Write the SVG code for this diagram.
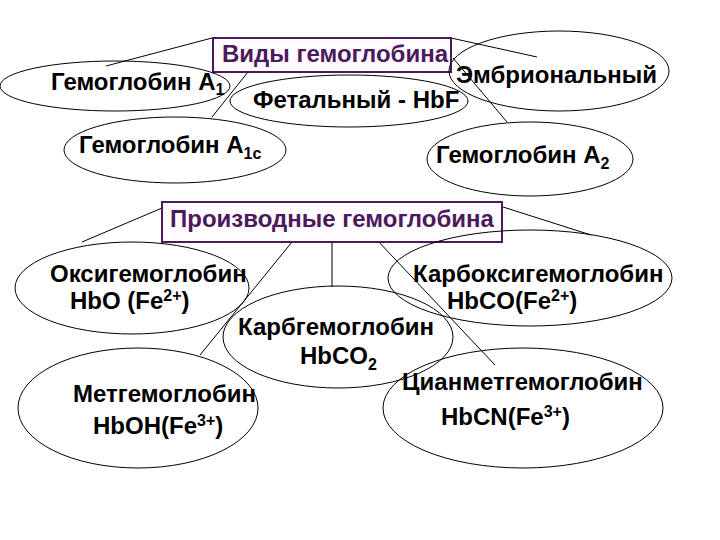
<svg xmlns="http://www.w3.org/2000/svg" width="720" height="540" viewBox="0 0 720 540">
<style>
text{font-family:"Liberation Sans",Arial,sans-serif;font-weight:bold;font-size:24px;fill:#000}
.t{fill:#4a1a5a}
.box{fill:#fffbff;stroke:#4a1a5a;stroke-width:2}
.el{fill:none;stroke:#000;stroke-width:1}
.c line{stroke:#000;stroke-width:1}
.sub{font-size:16px}
</style>
<rect width="720" height="540" fill="#fff"/>
<g id="connectors" class="c">
<line x1="212" y1="38" x2="106" y2="66"/>
<line x1="256" y1="62" x2="212" y2="117"/>
<line x1="355" y1="60" x2="355" y2="73"/>
<line x1="451" y1="38" x2="537" y2="57"/>
<line x1="453" y1="58" x2="507" y2="122"/>
<line x1="162" y1="208" x2="82" y2="242"/>
<line x1="292" y1="242" x2="200" y2="355"/>
<line x1="332" y1="242" x2="332" y2="287"/>
<line x1="503" y1="207" x2="591" y2="235"/>
<line x1="377" y1="240" x2="495" y2="365"/>
</g>
<g id="types">
<rect class="box" x="213" y="38" width="238" height="34"/>
<text class="t" x="222" y="62">Виды гемоглобина</text>
</g>
<g id="a1">
<ellipse class="el" cx="115" cy="86" rx="115" ry="25"/>
<text x="51" y="90">Гемоглобин А<tspan class="sub" dy="5">1</tspan></text>
</g>
<g id="fetal">
<ellipse class="el" cx="349" cy="101" rx="119" ry="26"/>
<text x="253" y="108">Фетальный - HbF</text>
</g>
<g id="embryo">
<ellipse class="el" cx="559" cy="71" rx="110" ry="40"/>
<text x="456" y="83">Эмбриональный</text>
</g>
<g id="a1c">
<ellipse class="el" cx="175" cy="150" rx="111" ry="33"/>
<text x="79" y="153">Гемоглобин А<tspan class="sub" dy="6">1c</tspan></text>
</g>
<g id="a2">
<ellipse class="el" cx="530" cy="159" rx="103" ry="37"/>
<text x="436" y="163">Гемоглобин А<tspan class="sub" dy="6">2</tspan></text>
</g>
<g id="derivs">
<rect class="box" x="162" y="202" width="340" height="40"/>
<text class="t" x="170" y="227">Производные гемоглобина</text>
</g>
<g id="oxy">
<ellipse class="el" cx="132" cy="288" rx="117" ry="46"/>
<text x="50" y="282">Оксигемоглобин</text>
<text x="70" y="309">HbO (Fe<tspan class="sub" dy="-8">2+</tspan><tspan dy="8">)</tspan></text>
</g>
<g id="carboxy">
<ellipse class="el" cx="530" cy="278" rx="142" ry="48"/>
<text x="413" y="282">Карбоксигемоглобин</text>
<text x="447" y="309">HbCO(Fe<tspan class="sub" dy="-8">2+</tspan><tspan dy="8">)</tspan></text>
</g>
<g id="carbg">
<ellipse class="el" cx="338" cy="337" rx="115" ry="51"/>
<text x="238" y="335">Карбгемоглобин</text>
<text x="300" y="364">HbCO<tspan class="sub" dy="6">2</tspan></text>
</g>
<g id="met">
<ellipse class="el" cx="138" cy="408" rx="120" ry="60"/>
<text x="73" y="402">Метгемоглобин</text>
<text x="93" y="434">HbOH(Fe<tspan class="sub" dy="-8">3+</tspan><tspan dy="8">)</tspan></text>
</g>
<g id="cyan">
<ellipse class="el" cx="523" cy="408" rx="140" ry="60"/>
<text x="402" y="390">Цианметгемоглобин</text>
<text x="441" y="425">HbCN(Fe<tspan class="sub" dy="-8">3+</tspan><tspan dy="8">)</tspan></text>
</g>
</svg>
